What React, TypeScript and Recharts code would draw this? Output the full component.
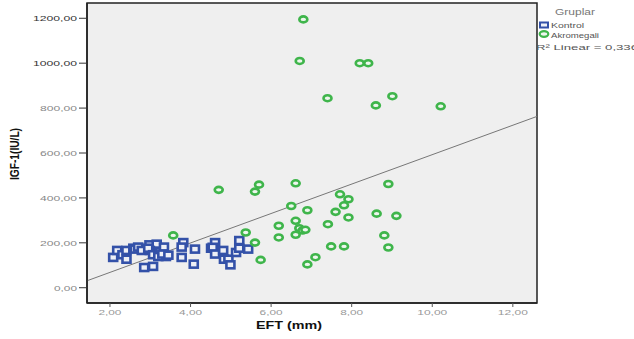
import React from "react";
import {
  ScatterChart,
  Scatter,
  XAxis,
  YAxis,
  CartesianGrid,
  ReferenceLine,
  ReferenceArea,
  Legend,
} from "recharts";

// Kontrol group (EFT mm, IGF-1 IU/L)
const kontrolEft = [
  2.08, 2.18, 2.31, 2.41, 2.41, 2.58, 2.62, 2.7, 2.79, 2.98, 3.16, 2.99, 2.95, 3.07, 3.24,
  3.34, 3.39, 3.2, 3.3, 3.45, 2.85, 3.07, 3.82, 3.78, 4.11, 3.78, 4.08, 4.61, 4.51, 4.55,
  4.61, 4.81, 4.83, 4.94, 4.99, 5.21, 5.13, 5.21, 5.43,
];
const kontrolIgf = [
  135, 166, 147, 166, 127, 176, 172, 181, 166, 191, 194, 166, 176, 147, 161,
  181, 139, 139, 150, 145, 90, 95, 201, 181, 172, 135, 105, 201, 176, 180,
  150, 166, 127, 127, 102, 210, 157, 176, 172,
];

// Akromegali group
const akroEft = [
  6.8, 6.71, 8.2, 8.41, 7.4, 9.01, 8.6, 10.21, 4.7, 5.7, 5.6, 6.61, 6.5, 7.71, 7.92,
  7.81, 6.9, 7.6, 7.92, 6.61, 6.19, 7.41, 6.7, 6.78, 6.85, 6.61, 6.19, 5.37, 5.6, 7.49,
  7.81, 5.74, 7.1, 6.9, 8.91, 8.62, 9.11, 8.81, 8.91, 3.57,
];
const akroIgf = [
  1195, 1010, 1000, 1000, 844, 853, 812, 808, 436, 459, 428, 465, 364, 416, 394,
  367, 345, 338, 313, 298, 276, 283, 265, 255, 258, 236, 224, 246, 201, 184,
  184, 124, 136, 104, 462, 330, 320, 233, 179, 233,
];

// fit line ends (R² Linear = 0,336)
const fitX = [1.43, 12.6];
const fitY = [31, 763];

const xTicks = [2, 4, 6, 8, 10, 12];
const yTicks = [0, 200, 400, 600, 800, 1000, 1200];
const groupNames = ["Kontrol", "Akromegali"];

const BLUE = "#3351a8";
const GREEN = "#3fb54b";
const FONT = "'Liberation Sans', Arial, sans-serif";

const kontrolData = kontrolEft.map((x, i) => ({ x, y: kontrolIgf[i] }));
const akroData = akroEft.map((x, i) => ({ x, y: akroIgf[i] }));

const fmt = (v: number) => v.toFixed(2).replace(".", ",");
const labelWidth = (s: string) => s.replace(",", "").length * 7 + 2;

const SquareMark = (p: any) => (
  <rect x={p.cx - 4} y={p.cy - 3.5} width={8} height={7} fill="#eef0f6" stroke={BLUE} strokeWidth={2.6} />
);
const RingMark = (p: any) => (
  <ellipse cx={p.cx} cy={p.cy} rx={4} ry={3} fill="#eef6ee" stroke={GREEN} strokeWidth={2.6} />
);

const YTick = ({ x, y, payload }: any) => {
  const s = fmt(payload.value);
  return (
    <text x={x} y={y + 3} textAnchor="end" fontSize={8} fontFamily={FONT}
      fill={payload.value >= 1000 ? "#333" : "#888"}
      textLength={labelWidth(s)} lengthAdjust="spacingAndGlyphs">{s}</text>
  );
};

const XTick = ({ x, y, payload }: any) => {
  const s = fmt(payload.value);
  return (
    <text x={x} y={y + 6} textAnchor="middle" fontSize={8} fontFamily={FONT} fill="#999"
      textLength={labelWidth(s)} lengthAdjust="spacingAndGlyphs">{s}</text>
  );
};

const GroupLegend = () => (
  <svg width={634} height={339} style={{ position: "absolute", left: 0, top: 0 }}>
    <text x={555} y={15} fontSize={9.5} fontFamily={FONT} fill="#777" textLength={40} lengthAdjust="spacingAndGlyphs">Gruplar</text>
    <rect x={540} y={22.5} width={8} height={5} fill="#eef0f6" stroke={BLUE} strokeWidth={2} />
    <text x={551} y={28} fontSize={8} fontFamily={FONT} fill="#555" textLength={33} lengthAdjust="spacingAndGlyphs">{groupNames[0]}</text>
    <ellipse cx={544} cy={34} rx={4.3} ry={2.8} fill="#eef6ee" stroke={GREEN} strokeWidth={2.2} />
    <text x={551} y={37.5} fontSize={8} fontFamily={FONT} fill="#555" textLength={48} lengthAdjust="spacingAndGlyphs">{groupNames[1]}</text>
    <text x={536} y={50} fontSize={8} fontFamily={FONT} fill="#555" textLength={102} lengthAdjust="spacingAndGlyphs">R² Linear = 0,336</text>
  </svg>
);

export default function App() {
  return (
    <div style={{ position: "absolute", left: 0, top: 0, width: 634, height: 339 }}>
      <ScatterChart width={634} height={339} margin={{ top: 3, right: 97, bottom: 0, left: 0 }}>
        <CartesianGrid fill="#efefef" horizontal={false} vertical={false} />
        <XAxis
          type="number"
          dataKey="x"
          domain={[1.43, 12.6]}
          ticks={xTicks}
          allowDataOverflow
          height={36}
          tickSize={4}
          tickMargin={2}
          tick={<XTick />}
          axisLine={{ stroke: "#222", strokeWidth: 1.5 }}
          tickLine={{ stroke: "#555" }}
          label={{
            content: () => (
              <text x={289} y={328.5} textAnchor="middle" fontSize={10.5} fontWeight="bold" fontFamily={FONT}
                fill="#111" textLength={66} lengthAdjust="spacingAndGlyphs">EFT (mm)</text>
            ),
          }}
        />
        <YAxis
          type="number"
          dataKey="y"
          domain={[-68, 1268]}
          ticks={yTicks}
          allowDataOverflow
          width={87}
          tickSize={8}
          tickMargin={2}
          tick={<YTick />}
          axisLine={{ stroke: "#222", strokeWidth: 1.5 }}
          tickLine={{ stroke: "#333" }}
          label={{
            content: () => (
              <text x={18.5} y={154} transform="rotate(-90 18.5 154)" textAnchor="middle" fontSize={12}
                fontWeight="bold" fontFamily={FONT} fill="#111" textLength={52}
                lengthAdjust="spacingAndGlyphs">IGF-1(IU/L)</text>
            ),
          }}
        />
        <ReferenceArea x1={1.43} x2={12.6} y1={-68} y2={1268} fill="none" stroke="#222" strokeWidth={1.5} />
        <ReferenceLine
          segment={[{ x: fitX[0], y: fitY[0] }, { x: fitX[1], y: fitY[1] }]}
          stroke="#777"
          strokeWidth={1}
        />
        <Legend layout="horizontal" verticalAlign="middle" align="center"
          wrapperStyle={{ left: 0, top: 0, width: 634, height: 339, pointerEvents: "none" }}
          content={() => <GroupLegend />} />
        <Scatter name={groupNames[0]} data={kontrolData} shape={SquareMark} isAnimationActive={false} />
        <Scatter name={groupNames[1]} data={akroData} shape={RingMark} isAnimationActive={false} />
      </ScatterChart>
    </div>
  );
}
